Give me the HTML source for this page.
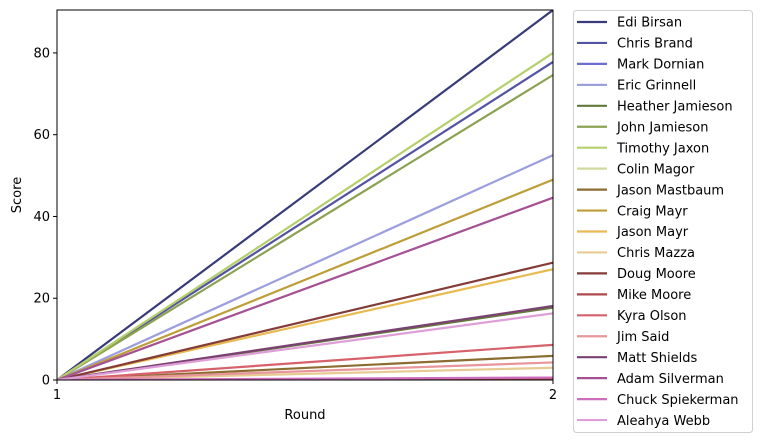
<!DOCTYPE html>
<html><head><meta charset="utf-8"><style>
body{margin:0;background:#fff;}
svg text{font-family:"DejaVu Sans","Liberation Sans",sans-serif;fill:#000;}
</style></head><body>
<svg id="chart" width="762" height="443" xmlns="http://www.w3.org/2000/svg"></svg>
<script>
const players=["Edi Birsan","Chris Brand","Mark Dornian","Eric Grinnell","Heather Jamieson","John Jamieson","Timothy Jaxon","Colin Magor","Jason Mastbaum","Craig Mayr","Jason Mayr","Chris Mazza","Doug Moore","Mike Moore","Kyra Olson","Jim Said","Matt Shields","Adam Silverman","Chuck Spiekerman","Aleahya Webb"];
const round1=[0,0,0,0,0,0,0,0,0,0,0,0,0,0,0,0,0,0,0,0];
const round2=[90.5,77.8,0.2,55,17.7,74.6,80,0.2,5.9,49,27.1,3.0,28.7,0.3,8.6,4.3,18.1,44.6,0.6,16.3];
const rounds=[1,2];
const yTicks=[0,20,40,60,80];
const colors=["#393b79","#5254a3","#6b6ecf","#9c9ede","#637939","#8ca252","#b5cf6b","#cedb9c","#8c6d31","#bd9e39","#e7ba52","#e7cb94","#843c39","#ad494a","#d6616b","#e7969c","#7b4173","#a55194","#ce6dbd","#de9ed6"];
const L=57,R=553,T=10,B=380,YMAX=90.5;
const sx=v=>L+(v-1)*(R-L);
const sy=v=>B-v/YMAX*(B-T);
const svg=document.getElementById('chart');
const NS='http://www.w3.org/2000/svg';
function mk(tag,attrs,parent){const e=document.createElementNS(NS,tag);for(const k in attrs)e.setAttribute(k,attrs[k]);(parent||svg).appendChild(e);return e;}
const clip=mk('clipPath',{id:'pc'});mk('rect',{x:L,y:T,width:R-L,height:B-T},clip);
const g=mk('g',{'clip-path':'url(#pc)'});
players.forEach((p,i)=>{
  const ln=mk('line',{x1:sx(rounds[0]),y1:sy(round1[i]),x2:sx(rounds[1]),y2:sy(round2[i]),stroke:colors[i],'stroke-width':2.2},g);
  
  
});
const frame=mk('rect',{x:L,y:T,width:R-L,height:B-T,fill:'none',stroke:'#000','stroke-width':1});


yTicks.forEach(v=>{
  mk('line',{x1:L-4,x2:L,y1:sy(v),y2:sy(v),stroke:'#000'});
  const t=mk('text',{x:L-7,y:sy(v)+4.5,'text-anchor':'end','font-size':13});
  t.textContent=v;
  
  
});
rounds.forEach(v=>{
  mk('line',{x1:sx(v),x2:sx(v),y1:B,y2:B+4,stroke:'#000'});
  const t=mk('text',{x:sx(v),y:B+19,'text-anchor':'middle','font-size':13});
  t.textContent=v;
  
  
});
const xt=mk('text',{x:305,y:419,'text-anchor':'middle','font-size':13});xt.textContent='Round';


const yt=mk('text',{x:21,y:195,'text-anchor':'middle','font-size':13,transform:'rotate(-90 21 195)'});yt.textContent='Score';


const lg=mk('g',{});


mk('rect',{x:573.5,y:10.5,width:179,height:422,rx:3,fill:'#fff',stroke:'#d0d0d0'},lg);
players.forEach((p,i)=>{
  const y=22+i*20.95;
  const e=mk('g',{},lg);
  
  
  mk('line',{x1:577,x2:607,y1:y,y2:y,stroke:colors[i],'stroke-width':2.2},e);
  const t=mk('text',{x:617,y:y+4.7,'font-size':13},e);t.textContent=p;
});
</script>
</body></html>
